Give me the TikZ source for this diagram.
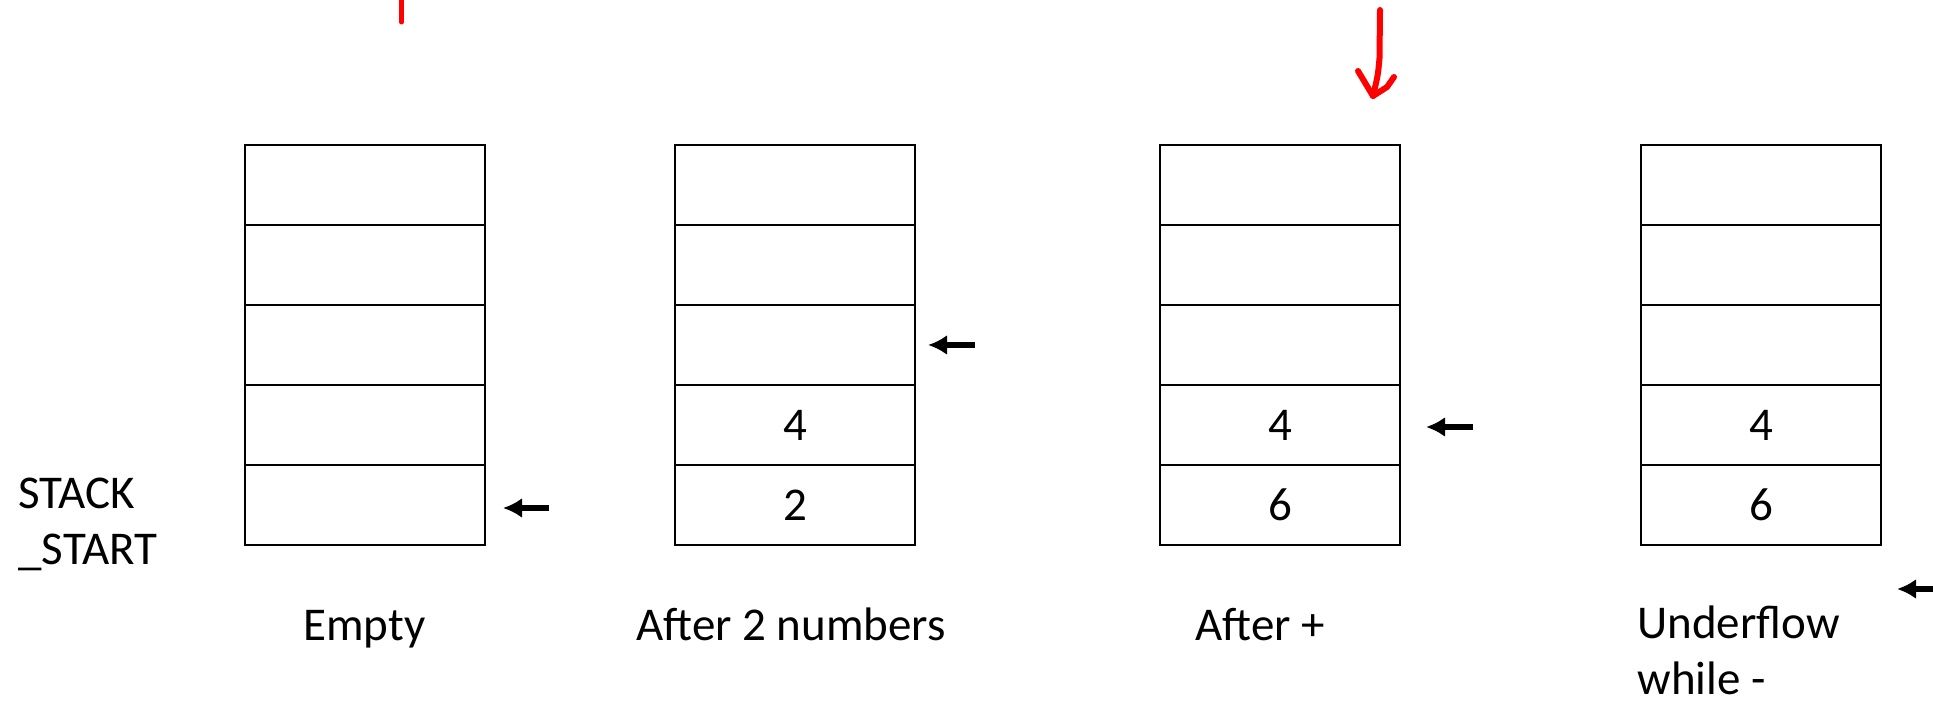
\documentclass[tikz,border=0pt]{standalone}
\usepackage{fontspec}
\setmainfont{Carlito}
\usetikzlibrary{arrows.meta,positioning,calc}
\definecolor{inkred}{rgb}{1,0,0}

\begin{document}
\begin{tikzpicture}[x=0.5pt, y=-0.5pt, >={Latex[length=9.5pt,width=10pt]},
   every node/.style={font=\fontsize{23.5}{28}\selectfont},
   cell/.style={draw, line width=1pt, minimum width=120pt, minimum height=40pt, outer sep=0pt, inner sep=0pt},
   ptr/.style={->, line width=3pt},
   lbl/.style={inner sep=0pt, anchor=base west, align=left}]

   \useasboundingbox (0,0) rectangle (1933,705);

   % stacks, bottom cell first
   \foreach \s/\x/\ca/\cb in {a/365/{}/{}, b/795/2/4, c/1280/6/4, d/1761/6/4} {
      \node[cell] (\s1) at (\x,505) {\ca};
      \node[cell, above=0pt of \s1] (\s2) {\cb};
      \node[cell, above=0pt of \s2] (\s3) {};
      \node[cell, above=0pt of \s3] (\s4) {};
      \node[cell, above=0pt of \s4] (\s5) {};
   }

   % labels (base = last line)
   \node[lbl] (stackstart) at (18,564) {STACK\\\_START};
   \node[lbl] (empty) at (303,640) {Empty};
   \node[lbl] (twonums) at (636,640) {After 2 numbers};
   \node[lbl] (afterplus) at (1195,640) {After +};
   \node[lbl] (underflow) at (1637,694) {Underflow\\while -};

   % stack pointers
   \draw[ptr] ($(a1.east)+(64,3)$) -- ($(a1.east)+(18,3)$);
   \draw[ptr] ($(b3.east)+(60,0)$) -- ($(b3.east)+(13,0)$);
   \draw[ptr] ($(c2.east)+(73,2)$) -- ($(c2.east)+(26,2)$);
   \draw[ptr] ($(d1.east)+(60,84)$) -- ($(d1.east)+(16,84)$);

   % red pen marks
   \draw[inkred, line width=2.5pt, line cap=round] (401.5,-10) -- (401.5,22);
   \draw[inkred, line width=3pt, line cap=round, line join=round] (1380,10) -- (1379.5,58) .. controls (1378,75) .. (1373,96);
   \draw[inkred, line width=3pt, line cap=round, line join=round] (1358,71) -- (1373,96) -- (1387,87) -- (1394,77);
\end{tikzpicture}
\end{document}
